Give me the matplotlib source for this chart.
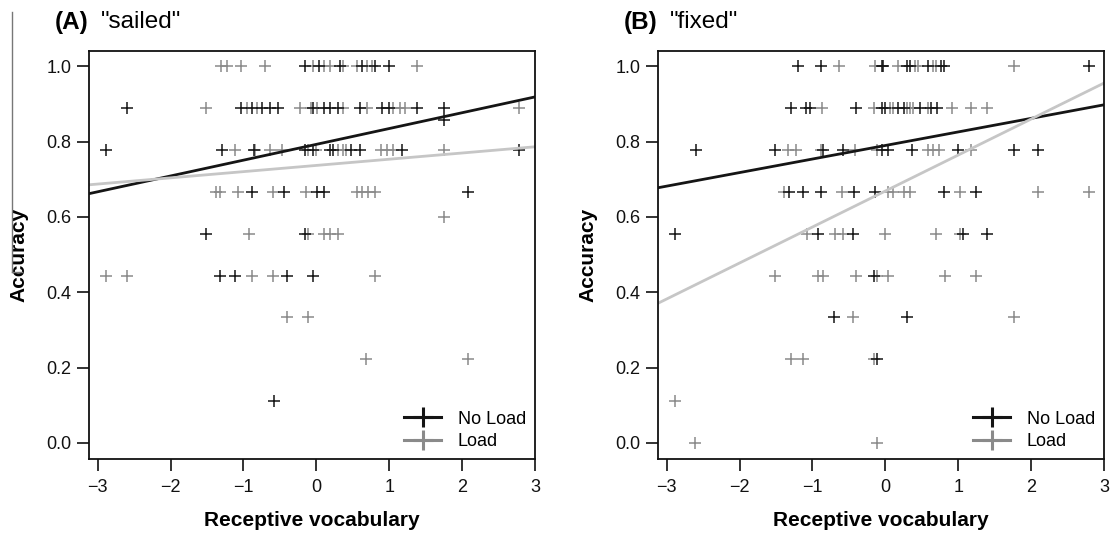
import matplotlib
matplotlib.use("Agg")
import matplotlib.pyplot as plt
from matplotlib.lines import Line2D

plt.rcParams["font.family"] = ["Liberation Sans", "DejaVu Sans"]

# points per accuracy level (x = receptive vocabulary z-score)
sailed_noload = {
    1.0: [-0.16, 0.03, 0.33, 0.63, 0.81, 1.00],
    0.889: [-2.60, -1.04, -0.88, -0.74, -0.63, -0.53, -0.04, 0.10, 0.19, 0.29,
            0.60, 0.90, 0.99, 1.38, 1.75],
    0.857: [1.75],
    0.778: [-2.88, -1.30, -0.86, -0.15, -0.05, 0.19, 0.23, 0.47, 0.60, 1.18, 2.78],
    0.667: [-0.89, -0.44, 0.01, 0.10, 2.08],
    0.556: [-1.52, -0.15],
    0.444: [-1.32, -1.12, -0.40, -0.05],
    0.111: [-0.58],
}
sailed_load = {
    1.0: [-1.31, -1.23, -1.04, -0.70, -0.05, 0.10, 0.19, 0.37, 0.56, 0.70, 0.77, 1.38],
    0.889: [-1.51, -0.95, -0.82, -0.22, -0.08, 0.01, 0.37, 0.70, 1.05, 1.15, 1.22, 2.78],
    0.778: [-1.12, -0.84, -0.63, -0.47, -0.11, -0.01, 0.30, 0.36, 0.40, 0.88, 0.97,
            1.05, 1.75],
    0.667: [-1.38, -1.32, -1.08, -0.59, -0.14, 0.56, 0.63, 0.71, 0.81],
    0.6: [1.75],
    0.556: [-0.93, -0.11, 0.10, 0.19, 0.29],
    0.444: [-2.88, -2.60, -0.88, -0.59, 0.81],
    0.333: [-0.40, -0.12],
    0.222: [0.68, 2.08],
}
fixed_noload = {
    1.0: [-1.20, -0.88, -0.05, -0.03, 0.30, 0.34, 0.58, 0.76, 0.80, 2.79],
    0.889: [-1.30, -1.09, -1.04, -0.40, -0.05, -0.01, 0.18, 0.25, 0.48, 0.62, 0.71],
    0.778: [-2.60, -1.51, -0.85, -0.58, -0.04, 0.04, 0.37, 1.00, 1.76, 2.10],
    0.667: [-1.32, -1.13, -0.88, -0.43, -0.14, 0.81, 1.24],
    0.556: [-2.88, -0.93, -0.44, 1.06, 1.39],
    0.444: [-0.15],
    0.333: [-0.70, 0.29],
    0.222: [-0.11],
}
fixed_load = {
    1.0: [-0.63, -0.14, 0.18, 0.41, 0.45, 0.65, 0.69, 1.77],
    0.889: [-0.87, -0.15, 0.07, 0.11, 0.30, 0.34, 0.38, 0.58, 0.92, 1.17, 1.39],
    0.778: [-1.33, -1.22, -0.89, -0.41, -0.11, 0.59, 0.65, 0.73, 1.17],
    0.667: [-1.39, -0.59, 0.04, 0.10, 0.25, 0.34, 1.03, 2.10, 2.79],
    0.556: [-1.07, -0.69, -0.58, -0.01, 0.70, 1.03],
    0.444: [-1.51, -0.93, -0.85, -0.40, -0.11, 0.03, 0.82, 1.24],
    0.333: [-0.44, 1.76],
    0.222: [-1.30, -1.13, -0.15],
    0.111: [-2.88],
    0.0: [-2.61, -0.11],
}

# regression lines: (intercept, slope)
sailed_fit = {"noload": (0.793, 0.042), "load": (0.737, 0.0165)}
fixed_fit = {"noload": (0.790, 0.036), "load": (0.669, 0.0956)}

panels = [
    ("(A)", '"sailed"', sailed_noload, sailed_load, sailed_fit),
    ("(B)", '"fixed"', fixed_noload, fixed_load, fixed_fit),
]

black = "#151515"
grey = "#8a8a8a"
light = "#c6c6c6"

W, H = 1115, 533
fig = plt.figure(figsize=(W / 100, H / 100), dpi=100)

lefts = [89, 658]
for (tag, word, noload, load, fit), left in zip(panels, lefts):
    ax = fig.add_axes([left / W, (H - 459) / H, 446 / W, 408 / H])

    for rows, col in [(load, grey), (noload, black)]:
        xs = [x for y, row in rows.items() for x in row]
        ys = [y for y, row in rows.items() for x in row]
        ax.plot(xs, ys, ls="none", marker="+", ms=8, mew=1.1, color=col)

    b, m = fit["noload"]
    ax.axline((0, b), slope=m, color=black, lw=2.0)
    b, m = fit["load"]
    ax.axline((0, b), slope=m, color=light, lw=2.0)

    ax.set_xlim(-3.12, 3.0)
    ax.set_ylim(-0.043, 1.041)
    ax.set_xticks([-3, -2, -1, 0, 1, 2, 3])
    ax.set_yticks([0.0, 0.2, 0.4, 0.6, 0.8, 1.0])
    ax.set_yticklabels(["0.0", "0.2", "0.4", "0.6", "0.8", "1.0"])
    ax.tick_params(length=8.5, width=1.2, labelsize=13, colors="#111111")
    ax.tick_params(axis="x", pad=6)
    ax.tick_params(axis="y", pad=4)
    for s in ax.spines.values():
        s.set_linewidth(1.3)
        s.set_color("#111111")

    ax.set_xlabel("Receptive vocabulary", fontsize=15, fontweight="bold", labelpad=11)
    ax.set_ylabel("Accuracy", fontsize=15, fontweight="bold", labelpad=13)

    handles = [
        Line2D([], [], color=black, lw=2.2, marker="+", ms=15, mew=2.2),
        Line2D([], [], color=grey, lw=2.2, marker="+", ms=15, mew=2.2),
    ]
    ax.legend(handles, ["No Load", "Load"], loc="lower right", frameon=False,
              fontsize=13, handlelength=2.1, handletextpad=0.9,
              labelspacing=0.3, borderaxespad=0.1, bbox_to_anchor=(1.0, 0.0))

    fig.text((left - 34) / W, (H - 22) / H, tag, fontsize=17.5, fontweight="bold",
             va="center", ha="left")
    fig.text((left + 12) / W, (H - 22) / H, word, fontsize=17.5,
             va="center", ha="left")

# scanning artefact at the far left of the page
fig.add_artist(Line2D([12 / W, 12 / W], [(H - 12) / H, (H - 272) / H],
                      color="#777777", lw=1))
fig.add_artist(Line2D([12 / W, 22 / W], [(H - 272) / H, (H - 272) / H],
                      color="#777777", lw=1))

fig.savefig("out.png", dpi=100)
